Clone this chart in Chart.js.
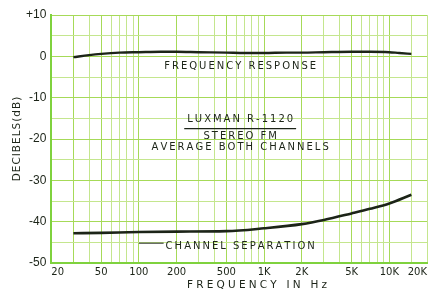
<!DOCTYPE html>
<html><head><meta charset="utf-8">
<script src="https://cdn.jsdelivr.net/npm/chart.js@4"></script>
<style>
html,body{margin:0;padding:0;background:#fff;overflow:hidden;width:430px;height:289px}
canvas{display:block}
</style></head><body>
<canvas id="c" width="430" height="289"></canvas>
<script>
// Frequency response (Hz, dB)
const frFreq = [30, 40, 50, 70, 100, 150, 200, 300, 500, 700, 1000, 1500, 2000, 3000, 5000, 7000, 10000, 12000, 15000];
const frDb   = [-0.2, 0.3, 0.6, 0.9, 1.0, 1.1, 1.1, 1.0, 0.9, 0.8, 0.8, 0.9, 0.9, 1.0, 1.1, 1.1, 1.0, 0.8, 0.6];
// Channel separation (Hz, dB)
const sepFreq = [30, 50, 100, 200, 500, 1000, 2000, 3000, 5000, 7000, 10000, 15000];
const sepDb   = [-42.8, -42.7, -42.5, -42.4, -42.3, -41.6, -40.6, -39.6, -38.0, -36.9, -35.6, -33.5];
// Graph-paper vertical lines and tick labels
const xGridValues = [20,30,40,50,60,70,80,90,100,200,300,400,500,600,700,800,900,1000,2000,3000,4000,5000,6000,7000,8000,9000,10000,15000,20000];
const xTickValues = [20, 50, 100, 200, 500, 1000, 2000, 5000, 10000, 20000];
const xTickText   = ['20','50','100','200','500','1K','2K','5K','10K','20K'];
const yTickValues = [10, 0, -10, -20, -30, -40, -50];
const yTickText   = ['+10','0','-10','-20','-30','-40','-50'];
const xTitle = 'FREQUENCY IN Hz';
const yTitle = 'DECIBELS(dB)';

const INK = '#1c2418';
const GRID = '#a6da58';
const GRID_LIGHT = '#c4e68e';
const BORDER = '#7fd23e';

function spacedText(ctx, t, cx, cy, sp) {
  const chars = [...t];
  const ws = chars.map(c => ctx.measureText(c).width);
  const total = ws.reduce((s, w) => s + w, 0) + sp * (chars.length - 1);
  let xx = cx - total / 2;
  ctx.textAlign = 'left';
  chars.forEach((c, i) => { ctx.fillText(c, xx, cy); xx += ws[i] + sp; });
  return total;
}

const annot = {
  id: 'annot',
  afterDatasetsDraw(chart) {
    const {ctx, chartArea: a, scales: {x, y}} = chart;
    const cx = (a.left + a.right) / 2 + 1;
    ctx.save();
    ctx.fillStyle = INK;
    ctx.strokeStyle = INK;
    ctx.textBaseline = 'middle';
    ctx.font = '10px "DejaVu Sans"';
    const put = (t, db) => spacedText(ctx, t, cx, y.getPixelForValue(db), 2);
    put('FREQUENCY RESPONSE', -2.5);
    const w = put('LUXMAN R-1120', -15.3);
    ctx.lineWidth = 1.2;
    ctx.beginPath();
    const uy = y.getPixelForValue(-17.5);
    ctx.moveTo(cx - w / 2 - 3, uy); ctx.lineTo(cx + w / 2 + 3, uy); ctx.stroke();
    put('STEREO FM', -19.4);
    put('AVERAGE BOTH CHANNELS', -22.1);
    const w2 = put('CHANNEL SEPARATION', -45.9);
    const ly = y.getPixelForValue(-45.2);
    ctx.lineWidth = 1;
    ctx.beginPath();
    ctx.moveTo(x.getPixelForValue(100), ly); ctx.lineTo(cx - w2 / 2 - 2, ly); ctx.stroke();
    // axis titles
    ctx.font = '10.5px "DejaVu Sans"';
    spacedText(ctx, xTitle, 257, a.bottom + 22, 3.2);
    ctx.translate(17, (a.top + a.bottom) / 2);
    ctx.rotate(-Math.PI / 2);
    spacedText(ctx, yTitle, 0, 0, 1);
    ctx.restore();
  }
};

new Chart(document.getElementById('c'), {
  type: 'line',
  data: {
    datasets: [
      { data: frFreq.map((f, i) => ({x: f, y: frDb[i]})), borderColor: INK, borderWidth: 2.4, pointRadius: 0, cubicInterpolationMode: 'monotone' },
      { data: sepFreq.map((f, i) => ({x: f, y: sepDb[i]})), borderColor: INK, borderWidth: 2.6, pointRadius: 0, cubicInterpolationMode: 'monotone' }
    ]
  },
  options: {
    responsive: false,
    animation: false,
    devicePixelRatio: 1,
    layout: { padding: { top: 15, left: 21, right: 0, bottom: 8 } },
    plugins: { legend: { display: false }, tooltip: { enabled: false } },
    scales: {
      x: {
        type: 'logarithmic', min: 20, max: 20000,
        afterBuildTicks: s => { s.ticks = xGridValues.map(v => ({value: v})); },
        ticks: {
          autoSkip: false, maxRotation: 0, minRotation: 0, align: 'inner', padding: 3,
          color: INK, font: { family: 'DejaVu Sans', size: 10 },
          callback: v => { const i = xTickValues.indexOf(Number(v)); return i >= 0 ? xTickText[i] : ''; }
        },
        grid: {
          drawTicks: false,
          color: c => (c.tick && [100, 1000, 10000, 30, 50, 200, 500, 2000, 5000].includes(c.tick.value)) ? GRID : GRID_LIGHT,
          lineWidth: 1
        },
        border: { color: BORDER, width: 2 }
      },
      y: {
        type: 'linear', min: -50, max: 10,
        ticks: {
          stepSize: 5, padding: 5, color: INK,
          font: { family: "'Liberation Sans', Arial, sans-serif", size: 12 },
          callback: v => { const i = yTickValues.indexOf(Number(v)); return i >= 0 ? yTickText[i] : ''; }
        },
        grid: {
          drawTicks: false,
          color: c => (c.tick && c.tick.value % 10 === 0) ? GRID : GRID_LIGHT,
          lineWidth: 1
        },
        border: { color: BORDER, width: 2 }
      }
    }
  },
  plugins: [annot]
});
</script>
</body></html>
